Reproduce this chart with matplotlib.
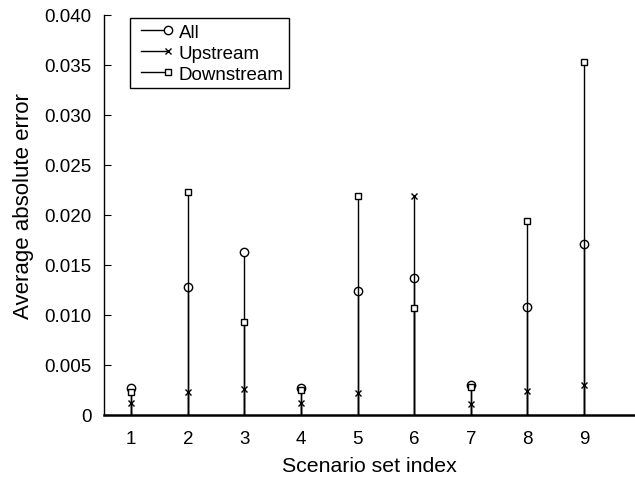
import matplotlib.pyplot as plt
from matplotlib.lines import Line2D

plt.rcParams['font.family'] = ['Liberation Sans', 'DejaVu Sans']

scenarios = [1, 2, 3, 4, 5, 6, 7, 8, 9]
err_all = [0.0027, 0.0128, 0.0163, 0.0027, 0.0124, 0.0137, 0.0030, 0.0108, 0.0171]
err_up = [0.0012, 0.0023, 0.0026, 0.0012, 0.0022, 0.0219, 0.0011, 0.0024, 0.0030]
err_down = [0.0023, 0.0223, 0.0093, 0.0025, 0.0219, 0.0107, 0.0028, 0.0194, 0.0353]

fig = plt.figure(figsize=(6.35, 4.81), dpi=100)
ax = fig.add_axes([104 / 635, 1 - 416 / 481, 1 - 104 / 635, 400 / 481])

series = [
    (err_all, 'o', 6, 'All'),
    (err_up, 'x', 4, 'Upstream'),
    (err_down, 's', 4.5, 'Downstream'),
]
handles = []
for vals, mk, ms, lab in series:
    ax.vlines(scenarios, 0, vals, colors='black', linewidth=1)
    ax.plot(scenarios, vals, linestyle='none', marker=mk, markersize=ms,
            markerfacecolor='white', markeredgecolor='black',
            markeredgewidth=1, clip_on=False)
    handles.append(Line2D([], [], color='black', linewidth=1, marker=mk,
                          markersize=ms, markerfacecolor='white',
                          markeredgecolor='black'))

ax.set_xlim(0.52, 9.9)
ax.set_ylim(0, 0.040)
ax.set_xticks(scenarios)
ax.set_yticks([0, 0.005, 0.010, 0.015, 0.020, 0.025, 0.030, 0.035, 0.040])
ax.set_yticklabels(['0', '0.005', '0.010', '0.015', '0.020', '0.025',
                    '0.030', '0.035', '0.040'])
ax.tick_params(axis='y', direction='in', length=5, labelsize=13.5, pad=9)
ax.tick_params(axis='x', length=0, labelsize=13.5, pad=11)

ax.spines['top'].set_visible(False)
ax.spines['right'].set_visible(False)
ax.spines['bottom'].set_linewidth(1.8)
ax.spines['left'].set_linewidth(1)

ax.set_xlabel('Scenario set index', fontsize=15.3, labelpad=6)
ax.set_ylabel('Average absolute error', fontsize=16)
ax.yaxis.set_label_coords(-0.131, 0.525)

leg = ax.legend(handles, ['All', 'Upstream', 'Downstream'], loc='upper left',
                bbox_to_anchor=(130 / 635, 1 - 19 / 481),
                bbox_transform=fig.transFigure, borderaxespad=0,
                numpoints=2, handlelength=2.0, handletextpad=0.3,
                labelspacing=0.2, fontsize=13.5, fancybox=False,
                edgecolor='black', framealpha=1, borderpad=0.3)
leg.get_frame().set_linewidth(1)
for ln in leg.get_lines():
    ln.set_markevery([1])

fig.savefig('out.png', dpi=100)
